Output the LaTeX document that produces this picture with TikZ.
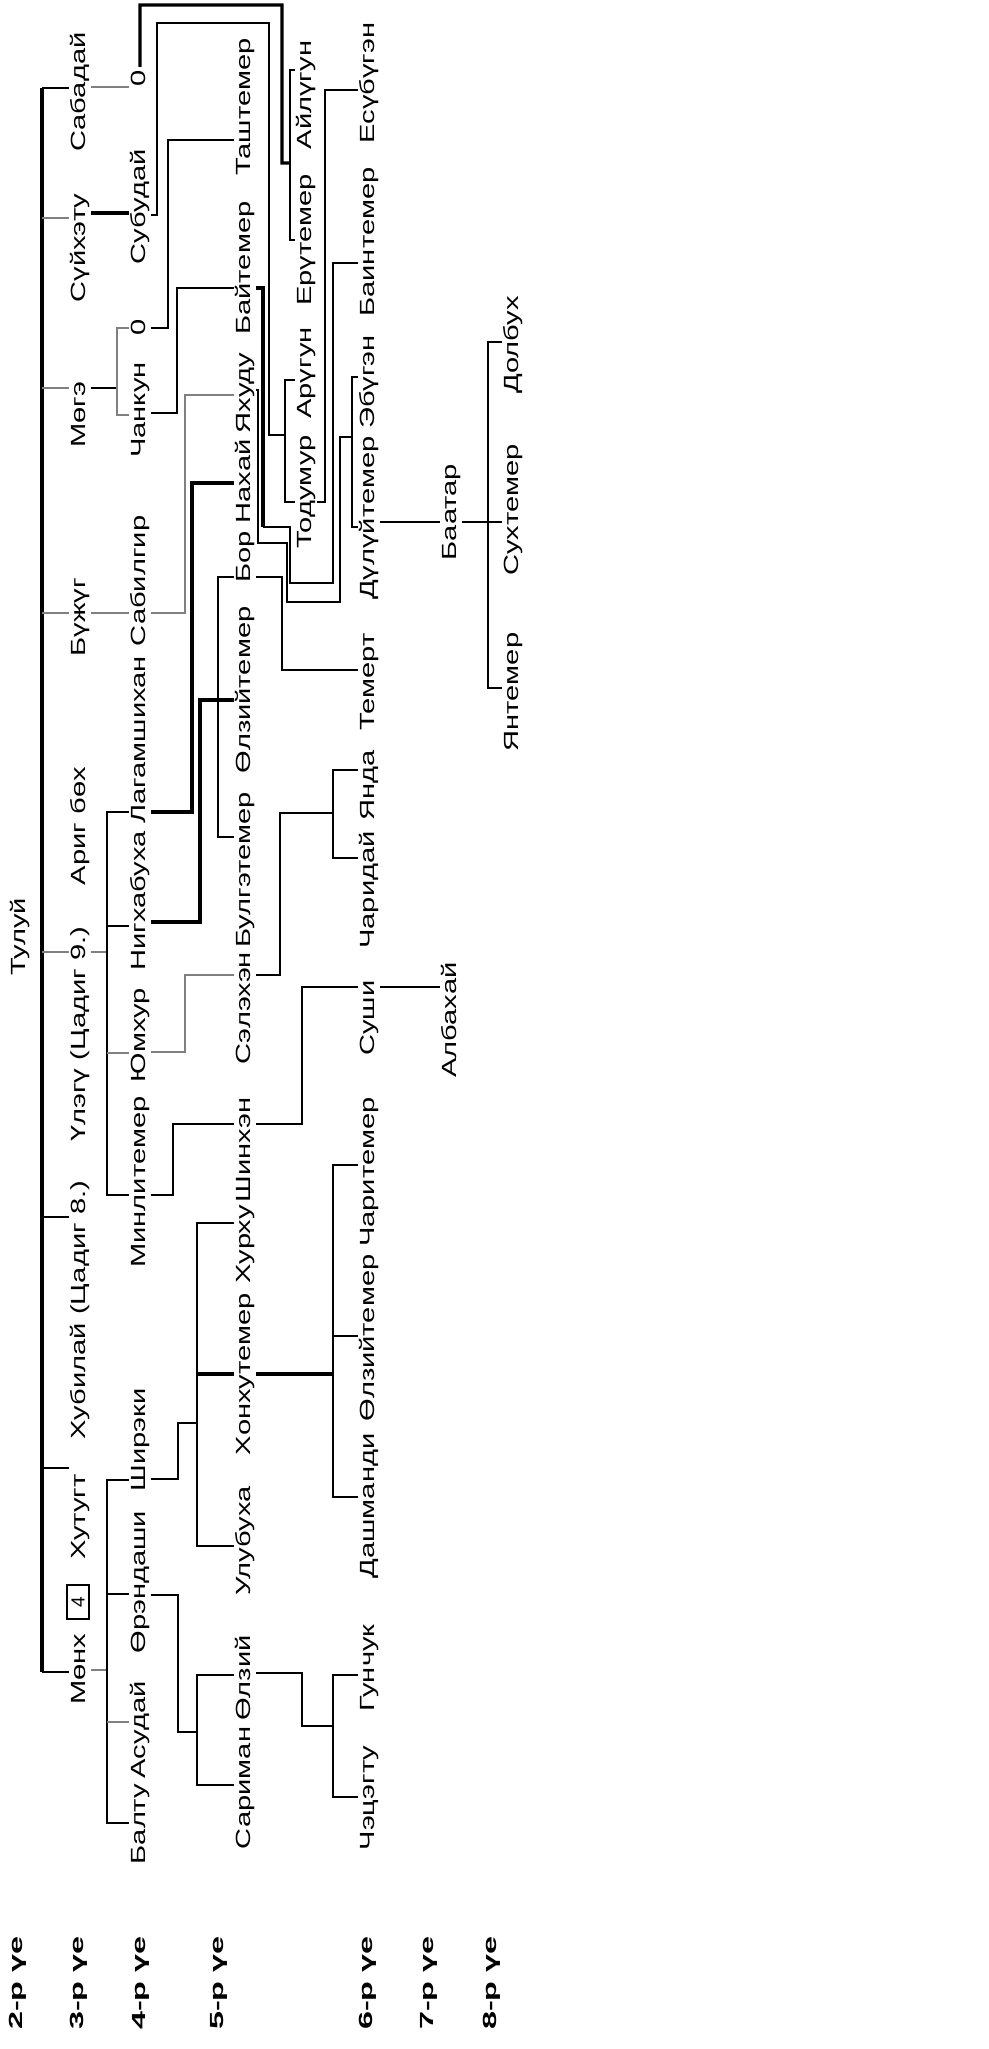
\documentclass[tikz,border=0pt]{standalone}
\usepackage{fontspec}
\setmainfont{Liberation Sans}
\usetikzlibrary{backgrounds}

\begin{document}
\begin{tikzpicture}[
    x=1pt, y=-1pt,
    pers/.style = {
      font=\fontsize{20.5}{24}\selectfont,
      rotate=90, xscale=1.42,
      fill=white, inner xsep=2pt, inner ysep=2pt,
      text height=14.5pt, text depth=4pt
    },
    gen/.style = {pers, font=\fontsize{19}{23}\selectfont\bfseries, xscale=1.2},
    numbox/.style = {
      draw, line width=1.3pt, rotate=90, fill=white,
      font=\fontsize{19}{22}\selectfont,
      minimum width=34pt, minimum height=22pt, inner sep=1pt
    },
    ln/.style  = {line width=2pt, black},
    lnk/.style = {line width=3.4pt, black},
    lng/.style = {line width=2.6pt, black!50},
  ]
  \useasboundingbox (0,0) rectangle (988,2049);

  % generations
  \node[gen] (g2) at (17,1983) {2-р үе};
  \node[gen] (g3) at (78,1983) {3-р үе};
  \node[gen] (g4) at (140,1983) {4-р үе};
  \node[gen] (g5) at (218,1983) {5-р үе};
  \node[gen] (g6) at (367,1983) {6-р үе};
  \node[gen] (g7) at (428,1983) {7-р үе};
  \node[gen] (g8) at (491,1983) {8-р үе};

  \node[pers] (Tului) at (20,937) {Тулуй};

  % 3
  \node[pers] (Sabadai)  at (80,92)   {Сабадай};
  \node[pers] (Suikhetu) at (80,248)  {Сүйхэту};
  \node[pers] (Moge)     at (80,415)  {Мөгэ};
  \node[pers] (Bujug)    at (80,617)  {Бүжүг};
  \node[pers] (Arigbokh) at (80,826)  {Ариг бөх};
  \node[pers] (Ulegu)    at (80,1034) {Үлэгү (Цадиг 9.)};
  \node[pers] (Khubilai) at (80,1310) {Хубилай (Цадиг 8.)};
  \node[pers] (Khutugt)  at (80,1517) {Хутугт};
  \node[pers] (Moenkh)   at (80,1669) {Мөнх};
  \node[numbox] (num4)   at (78,1602) {4};

  % 4
  \node[pers] (Sab0)      at (140,78)   {0};
  \node[pers] (Subudai)   at (140,207)  {Субудай};
  \node[pers] (Mog0)      at (140,327)  {0};
  \node[pers] (Chankun)   at (140,410)  {Чанкун};
  \node[pers] (Sabilgir)  at (140,581)  {Сабилгир};
  \node[pers] (Lagam)     at (140,740)  {Лагамшихан};
  \node[pers] (Nigkh)     at (140,901)  {Нигхабуха};
  \node[pers] (Yumkhur)   at (140,1035) {Юмхур};
  \node[pers] (Minli)     at (140,1182) {Минлитемер};
  \node[pers] (Shireki)   at (140,1440) {Ширэки};
  \node[pers] (Orendashi) at (140,1582) {Өрэндаши};
  \node[pers] (Asudai)    at (140,1730) {Асудай};
  \node[pers] (Baltu)     at (140,1824) {Балту};

  % 5
  \node[pers] (Tashtemer)  at (245,107)  {Таштемер};
  \node[pers] (Baitemer)   at (245,268)  {Байтемер};
  \node[pers] (Yakhudu)    at (245,393)  {Яхуду};
  \node[pers] (BorNakhai)  at (245,511)  {Бор Нахай};
  \node[pers] (Olziitemer) at (245,690)  {Өлзийтемер};
  \node[pers] (Bulge)      at (245,870)  {Булгэтемер};
  \node[pers] (Selekhen)   at (245,1008) {Сэлэхэн};
  \node[pers] (Shinkhen)   at (245,1150) {Шинхэн};
  \node[pers] (Khurkhu)    at (245,1244) {Хурху};
  \node[pers] (Khonkhu)    at (245,1374) {Хонхутемер};
  \node[pers] (Ulubukha)   at (245,1541) {Улубуха};
  \node[pers] (Olzii)      at (245,1678) {Өлзий};
  \node[pers] (Sariman)    at (245,1788) {Сариман};

  \node[pers] (Ailugun)  at (306,95)  {Айлүгун};
  \node[pers] (Erutemer) at (306,240) {Ерүтемер};
  \node[pers] (Arugun)   at (306,373) {Арүгун};
  \node[pers] (Todumur)  at (306,492) {Тодумур};

  % 6
  \node[pers] (Esubugen)    at (369,83)   {Есүбүгэн};
  \node[pers] (Baintemer)   at (369,242)  {Баинтемер};
  \node[pers] (Ebugen)      at (369,382)  {Эбүгэн};
  \node[pers] (Duluitemer)  at (369,518)  {Дүлүйтемер};
  \node[pers] (Temert)      at (369,682)  {Темерт};
  \node[pers] (Yanda)       at (369,785)  {Янда};
  \node[pers] (Charidai)    at (369,890)  {Чаридай};
  \node[pers] (Sushi)       at (369,1018) {Суши};
  \node[pers] (Charitemer)  at (369,1172) {Чаритемер};
  \node[pers] (OlziitemerB) at (369,1338) {Өлзийтемер};
  \node[pers] (Dashmandi)   at (369,1506) {Дашманди};
  \node[pers] (Gunchuk)     at (369,1668) {Гунчук};
  \node[pers] (Chetsegtu)   at (369,1798) {Чэцэгту};

  % 7, 8
  \node[pers] (Baatar)    at (451,512)  {Баатар};
  \node[pers] (Albakhai)  at (451,1020) {Албахай};
  \node[pers] (Dolbukh)   at (513,345)  {Долбух};
  \node[pers] (Sukhtemer) at (513,510)  {Сухтемер};
  \node[pers] (Yantemer)  at (513,692)  {Янтемер};

  \begin{scope}[on background layer]
    \fill[white] (0,0) rectangle (988,2049);
    % Tului's sons
    \draw[lnk] (42,88) -- (42,1672);
    \draw[ln]  (42,88) -- (Sabadai |- 0,88);
    \draw[lng] (42,218) -- (Suikhetu |- 0,218);
    \draw[lng] (42,388) -- (Moge |- 0,388);
    \draw[lng] (42,613) -- (Bujug |- 0,613);
    \draw[lng] (42,952) -- (Ulegu |- 0,952);
    \draw[ln]  (42,1217) -- (Khubilai |- 0,1217);
    \draw[ln]  (42,1468) -- (Khutugt.north |- 0,1468);
    \draw[ln]  (42,1672) -- (Moenkh |- 0,1672);

    % Sabadai
    \draw[lng] (Sabadai |- 0,87) -- (Sab0 |- 0,87);
    \draw[lnk] (Sab0) -- (Sab0 |- 0,5) -| (282,163) -- (290,163);
    \draw[ln]  (Ailugun |- 0,70) -| (290,240) -- (Erutemer |- 0,240);

    % Suikhetu
    \draw[lnk] (Suikhetu |- 0,213) -- (Subudai |- 0,213);
    \draw[ln]  (Subudai |- 0,215) -| (157,23) -| (269,435) -- (285,435);
    \draw[ln]  (Arugun |- 0,380) -| (285,502) -- (Todumur |- 0,502);
    \draw[ln]  (Todumur |- 0,502) -| (325,90) -- (Esubugen |- 0,90);

    % Moge
    \draw[ln]  (Moge |- 0,388) -- (117,388);
    \draw[lng] (Mog0 |- 0,328) -| (117,415) -- (Chankun |- 0,415);
    \draw[ln]  (Mog0 |- 0,328) -| (168,140) -- (Tashtemer |- 0,140);
    \draw[ln]  (Chankun |- 0,413) -| (177,288) -- (Baitemer |- 0,288);
    \draw[lnk] (Baitemer |- 0,288) -| (263,527);
    \draw[ln]  (263,527) -| (290,583) -| (333,263) -- (Baintemer |- 0,263);

    % Bujug
    \draw[lng] (Bujug |- 0,613) -- (Sabilgir |- 0,613);
    \draw[lng] (Sabilgir |- 0,613) -| (185,395) -- (Yakhudu |- 0,395);
    \draw[ln]  (Yakhudu |- 0,390) -| (258,543) -| (287,602) -| (340,437) -- (352,437);
    \draw[ln]  (Ebugen |- 0,377) -| (352,527) -- (Duluitemer |- 0,527);
    \draw[ln]  (Duluitemer |- 0,522) -- (Sukhtemer |- 0,522);
    \draw[ln]  (Dolbukh |- 0,342) -| (488,688) -- (Yantemer |- 0,688);

    % Ulegu
    \draw[lng] (Ulegu |- 0,952) -- (107,952);
    \draw[ln]  (Lagam |- 0,812) -| (107,1195) -- (Minli |- 0,1195);
    \draw[ln]  (107,926) -- (Nigkh |- 0,926);
    \draw[lng] (107,1053) -- (Yumkhur |- 0,1053);
    \draw[lnk] (Lagam |- 0,812) -| (192,483) -- (BorNakhai |- 0,483);
    \draw[lnk] (Nigkh |- 0,922) -| (200,700) -- (Olziitemer |- 0,700);
    \draw[ln]  (Bulge |- 0,837) -| (218,577) -| (282,670) -- (Temert |- 0,670);
    \draw[lng] (Yumkhur |- 0,1052) -| (185,975) -- (Selekhen |- 0,975);
    \draw[ln]  (Selekhen |- 0,975) -| (280,813) -- (333,813);
    \draw[ln]  (Yanda |- 0,770) -| (333,858) -- (Charidai |- 0,858);
    \draw[ln]  (Minli |- 0,1195) -| (173,1124) -- (Shinkhen |- 0,1124);
    \draw[ln]  (Shinkhen |- 0,1124) -| (302,987) -- (Sushi |- 0,987);
    \draw[ln]  (Sushi |- 0,987) -- (Albakhai.north |- 0,987);

    % Moenkh
    \draw[lng] (Moenkh |- 0,1670) -- (107,1670);
    \draw[ln]  (Shireki |- 0,1480) -| (107,1823) -- (Baltu |- 0,1823);
    \draw[ln]  (107,1594) -- (Orendashi |- 0,1594);
    \draw[lng] (107,1722) -- (Asudai |- 0,1722);
    \draw[ln]  (Shireki |- 0,1479) -| (178,1423) -- (197,1423);
    \draw[ln]  (Khurkhu |- 0,1223) -| (197,1546) -- (Ulubukha |- 0,1546);
    \draw[lnk] (197,1374) -- (Khonkhu |- 0,1374);
    \draw[lnk] (Khonkhu |- 0,1374) -- (333,1374);
    \draw[ln]  (Charitemer |- 0,1165) -| (333,1497) -- (Dashmandi |- 0,1497);
    \draw[ln]  (333,1336) -- (OlziitemerB |- 0,1336);
    \draw[ln]  (Orendashi |- 0,1595) -| (178,1732) -- (197,1732);
    \draw[ln]  (Olzii |- 0,1675) -| (197,1785) -- (Sariman |- 0,1785);
    \draw[ln]  (Olzii |- 0,1673) -| (302,1726) -- (333,1726);
    \draw[ln]  (Gunchuk |- 0,1675) -| (333,1797) -- (Chetsegtu |- 0,1797);
  \end{scope}
\end{tikzpicture}
\end{document}
